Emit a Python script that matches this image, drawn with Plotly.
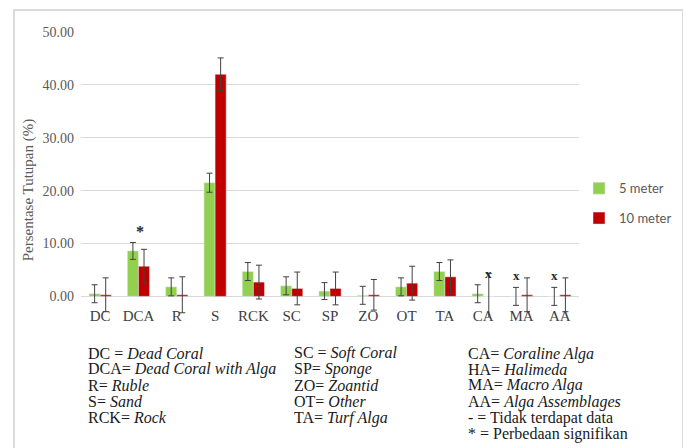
import plotly.graph_objects as go

categories = ["DC", "DCA", "R", "S", "RCK", "SC", "SP", "ZO", "OT", "TA", "CA", "MA", "AA"]
m5_values = [0.5, 8.6, 1.8, 21.5, 4.7, 2.0, 1.0, 0.2, 1.8, 4.7, 0.5, 0, 0]
m5_err = [1.7, 1.6, 1.7, 1.8, 1.7, 1.7, 1.6, 1.7, 1.7, 1.7, 1.7, 1.7, 1.7]
m10_values = [0.3, 5.7, 0.3, 42.0, 2.7, 1.5, 1.5, 0.3, 2.5, 3.7, 0, 0.3, 0.3]
m10_err = [3.2, 3.2, 3.4, 3.1, 3.2, 3.1, 3.1, 2.9, 3.2, 3.2, 4.3, 3.2, 3.2]
series_names = ["5 meter", "10 meter"]
ytick_vals = [0, 10, 20, 30, 40, 50]
y_title = "Persentase Tutupan (%)"

# markers: (category, series index, y)
missing_marks = [("CA", 1, 2.6), ("MA", 0, 2.2), ("AA", 0, 2.2)]
signif_marks = [("DCA", 12.2)]

legend_col1 = [("DC = ", "Dead Coral"), ("DCA= ", "Dead Coral with Alga"), ("R= ", "Ruble"),
               ("S= ", "Sand"), ("RCK= ", "Rock")]
legend_col2 = [("SC = ", "Soft Coral"), ("SP= ", "Sponge"), ("ZO= ", "Zoantid"),
               ("OT= ", "Other"), ("TA= ", "Turf Alga")]
legend_col3 = [("CA= ", "Coraline Alga"), ("HA= ", "Halimeda"), ("MA= ", "Macro Alga"),
               ("AA= ", "Alga Assemblages"), ("- = Tidak terdapat data", ""),
               ("* = Perbedaan signifikan", "")]

OFF = 8  # page body margin
W, H = 691 - OFF, 448 - OFF
PL, PR, PT, PB = 81 - OFF, 579 - OFF, 32 - OFF, 316.6 - OFF   # plot area, figure pixels
def px(xp):  # page pixel -> paper
    return (xp - OFF - PL) / (PR - PL)
def py(yp):
    return (PB - (yp - OFF)) / (PB - PT)

green = "#92D050"
red = "#C00000"
errc = "#404040"
serif = "Liberation Serif"

fig = go.Figure()
fig.add_trace(go.Bar(
    x=categories, y=m5_values, name=series_names[0], marker_color=green,
    error_y=dict(type="data", array=m5_err, visible=True, color=errc, thickness=1, width=3),
    legendgroup="a"))
fig.add_trace(go.Bar(
    x=categories, y=m10_values, name=series_names[1], marker_color=red,
    error_y=dict(type="data", array=m10_err, visible=True, color=errc, thickness=1, width=3),
    legendgroup="b"))

annotations = []
for cat, si, yv in missing_marks:
    annotations.append(dict(x=cat, y=yv, xref="x", yref="y", text="<b>x</b>", showarrow=False,
                            xshift=-5.5 if si == 0 else 5.5, yanchor="bottom",
                            font=dict(family=serif, size=13, color="#262626")))
for cat, yv in signif_marks:
    annotations.append(dict(x=cat, y=yv, xref="x", yref="y", text="<b>*</b>", showarrow=False,
                            yanchor="middle", xshift=2,
                            font=dict(family=serif, size=16, color="#262626")))

annotations.append(dict(x=px(28), y=py(190), xref="paper", yref="paper", text=y_title,
                        showarrow=False, textangle=-90, xanchor="center", yanchor="middle",
                        font=dict(family=serif, size=15, color="#595959")))

def add_col(items, x_pix, y_pixels):
    for (a, b), yp in zip(items, y_pixels):
        txt = a + ("<i>" + b + "</i>" if b else "")
        annotations.append(dict(x=px(x_pix), y=py(yp), xref="paper", yref="paper", text=txt,
                                showarrow=False, xanchor="left", yanchor="middle",
                                font=dict(family=serif, size=16, color="#1a1a1a")))

rows5 = [353, 369, 385, 401, 417]
add_col(legend_col1, 86, rows5)
add_col(legend_col2, 292, rows5)
add_col(legend_col3, 466, [354, 369, 385, 401, 417, 433])

shapes = [dict(type="rect", xref="paper", yref="paper",
               x0=px(14), x1=px(683), y0=py(470), y1=py(10),
               line=dict(color="#d0d0d0", width=1.5), fillcolor="rgba(0,0,0,0)", layer="below")]

fig.update_layout(
    width=W, height=H,
    margin=dict(l=PL, r=W - PR, t=PT, b=H - PB, pad=0),
    paper_bgcolor="white", plot_bgcolor="white",
    barmode="group", bargap=0.42, bargroupgap=0,
    showlegend=True,
    legend=dict(x=px(579), y=py(203), xanchor="left", yanchor="middle",
                font=dict(family="Lato", size=13, color="#595959"),
                tracegroupgap=10, bgcolor="rgba(0,0,0,0)", itemwidth=30),
    xaxis=dict(showgrid=False, showline=False, ticks="", tickangle=0,
               tickfont=dict(family=serif, size=15, color="#404040"),
               ticklabelstandoff=-12),
    yaxis=dict(range=[-3.9, 50], tickvals=ytick_vals, tickformat=".2f",
               showgrid=True, gridcolor="#d9d9d9", gridwidth=1, zeroline=False,
               showline=False, ticks="",
               tickfont=dict(family=serif, size=14, color="#595959"),
               ticklabelstandoff=6),
    annotations=annotations, shapes=shapes,
)

fig.write_html("out.html")
